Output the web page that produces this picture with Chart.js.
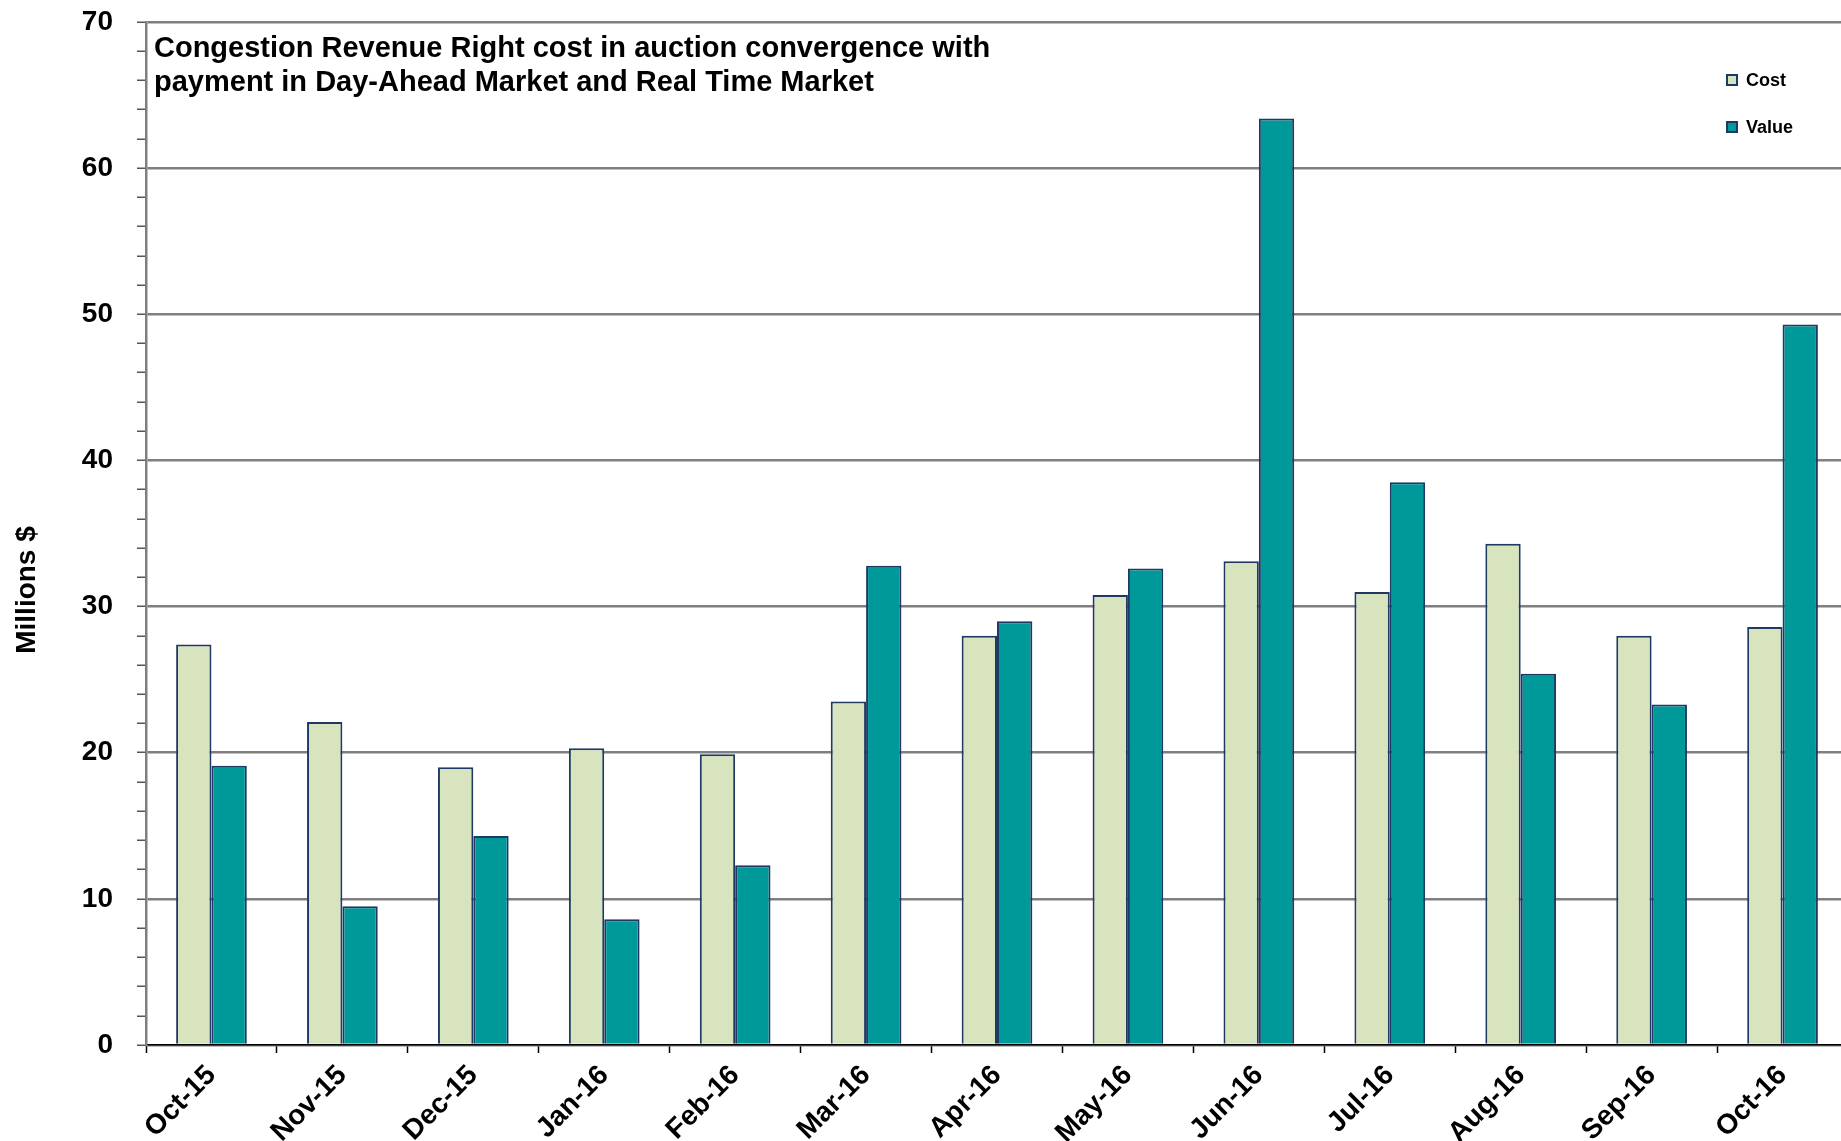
<!DOCTYPE html>
<html>
<head>
<meta charset="utf-8">
<script src="https://cdn.jsdelivr.net/npm/chart.js@4"></script>
<style>
  body { margin: 0; background: #fff; overflow: hidden; }
  #wrap { width: 1848px; height: 1141px; }
</style>
</head>
<body>
<div id="wrap"><canvas id="crrChart" width="1848" height="1141"></canvas></div>
<script>
// months on the x axis
const months = ["Oct-15", "Nov-15", "Dec-15", "Jan-16", "Feb-16", "Mar-16", "Apr-16",
                "May-16", "Jun-16", "Jul-16", "Aug-16", "Sep-16", "Oct-16"];
// millions $
const costValues = [27.4, 22.1, 19.0, 20.3, 19.9, 23.5, 28.0, 30.8, 33.1, 31.0, 34.3, 28.0, 28.6];
const valueValues = [19.1, 9.5, 14.3, 8.6, 12.3, 32.8, 29.0, 32.6, 63.4, 38.5, 25.4, 23.3, 49.3];
const titleLines = ["Congestion Revenue Right cost in auction convergence with",
                    "payment in Day-Ahead Market and Real Time Market"];

const FONT = "'Liberation Sans', Arial, sans-serif";

// title, legend and y axis title are drawn inside the plot like in the original
const overlayText = {
    id: "overlayText",
    afterDraw(chart) {
        const ctx = chart.ctx;
        ctx.save();
        ctx.fillStyle = "#000";
        ctx.font = "bold 29px " + FONT;
        ctx.textAlign = "left";
        ctx.textBaseline = "alphabetic";
        ctx.fillText(titleLines[0], 154, 57);
        ctx.fillText(titleLines[1], 154, 91);

        // legend
        ctx.font = "bold 18px " + FONT;
        ctx.textBaseline = "middle";
        const ys = [80, 127];
        chart.data.datasets.forEach((ds, i) => {
            ctx.fillStyle = ds.backgroundColor;
            ctx.fillRect(1727, ys[i] - 5, 10, 10);
            ctx.strokeStyle = ds.borderColor;
            ctx.lineWidth = 2;
            ctx.strokeRect(1727, ys[i] - 5, 10, 10);
            ctx.fillStyle = "#000";
            ctx.fillText(ds.label, 1746, ys[i] + 1);
        });

        // y axis title
        ctx.translate(27, 590);
        ctx.rotate(-Math.PI / 2);
        ctx.textAlign = "center";
        ctx.font = "bold 28px " + FONT;
        ctx.fillText("Millions $", 0, 0);
        ctx.restore();
    }
};

new Chart(document.getElementById("crrChart"), {
    type: "bar",
    data: {
        labels: months,
        datasets: [
            {
                label: "Cost",
                data: costValues,
                backgroundColor: "#d8e4bd",
                borderColor: "#1f3864",
                borderWidth: 2,
                categoryPercentage: 0.54,
                barPercentage: 1.0
            },
            {
                label: "Value",
                data: valueValues,
                backgroundColor: "#009999",
                borderColor: "#1f3864",
                borderWidth: 2,
                categoryPercentage: 0.54,
                barPercentage: 1.0
            }
        ]
    },
    options: {
        responsive: false,
        animation: false,
        devicePixelRatio: 1,
        layout: { padding: { top: 22, right: 0, bottom: 0, left: 0 } },
        plugins: {
            legend: { display: false },
            title: { display: false },
            tooltip: { enabled: false }
        },
        scales: {
            x: {
                grid: {
                    offset: true,
                    drawOnChartArea: false,
                    tickLength: 8,
                    tickColor: "#000",
                    tickWidth: 1.5
                },
                border: { color: "#000", width: 1.5 },
                ticks: {
                    color: "#000",
                    font: { family: FONT, size: 28, weight: "bold" },
                    minRotation: 45,
                    maxRotation: 45,
                    padding: 6
                },
                afterFit(scale) { scale.height = 96; }
            },
            y: {
                min: 0,
                max: 70,
                grid: {
                    color: (c) => (c.tick && c.tick.value % 10 === 0 ? "#7f7f7f" : "rgba(0,0,0,0)"),
                    lineWidth: 2.5,
                    tickLength: 9,
                    tickColor: "#555",
                    tickWidth: 1.5
                },
                border: { color: "#7f7f7f", width: 2.5 },
                ticks: {
                    stepSize: 2,
                    autoSkip: false,
                    color: "#000",
                    padding: 24,
                    font: { family: FONT, size: 28, weight: "bold" },
                    callback: (v) => (v % 10 === 0 ? v : "")
                },
                afterFit(scale) {
                    scale.width = 146;
                    scale.paddingTop = 0;
                    scale.paddingBottom = 0;
                }
            }
        }
    },
    plugins: [overlayText]
});
</script>
</body>
</html>
